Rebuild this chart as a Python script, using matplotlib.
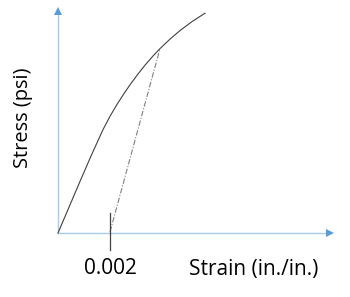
import matplotlib.pyplot as plt

# titik kurva tegangan-regangan (regangan dalam in./in., tegangan skala relatif)
strain = [0.0, 0.000846, 0.001308, 0.001731, 0.002, 0.002269, 0.002538, 0.002808,
          0.003077, 0.003346, 0.003654, 0.003923, 0.004308, 0.004692, 0.005154, 0.005654]
stress = [0, 51.6, 79.2, 103.4, 116.7, 128.6, 139.4, 149.6,
          159, 167.8, 177, 184.4, 193.9, 202.4, 211.4, 219.8]

# garis offset 0.2% (sejajar bagian elastis)
offset_strain = [0.002, 0.003923]
offset_stress = [1, 184.4]
offset_label = "0.002"

x_label = "Strain (in./in.)"
y_label = "Stress (psi)"

px = 0.002 / 52  # regangan per piksel

fig = plt.figure(figsize=(3.5, 2.97), dpi=100)
ax = fig.add_axes([0, 0, 1, 1])
ax.set_xlim(-58 * px, 292 * px)
ax.set_ylim(-64, 233)
ax.axis('off')

axis_col = '#A9CBEA'
head_col = '#5B9BD5'

# sumbu dan kepala panah
ax.plot([0, 0], [0, 220], color=axis_col, lw=1)
ax.plot([0, 269 * px], [0, 0], color=axis_col, lw=1)
ax.plot(0, 222.5, marker='^', ms=5.2, color=head_col, mec=head_col, mew=0)
ax.plot(271.5 * px, 0, marker='>', ms=5.2, color=head_col, mec=head_col, mew=0)

# kurva
ax.plot(strain, stress, color='#404040', lw=0.8)
ax.plot(offset_strain, offset_stress, color='#808080', lw=0.8,
        linestyle=(0, (5, 1.5, 1, 1.5)))

# tanda 0.002
ax.plot([offset_strain[0]] * 2, [-17, 20], color='#404040', lw=0.9)

font = 'Open Sans'
ax.text(offset_strain[0], -36, offset_label, ha='center', va='center',
        fontsize=15, family=font, color='black')
ax.text(196 * px, -36, x_label, ha='center', va='center',
        fontsize=15, family=font, color='black')
ax.text(-35 * px, 115, y_label, ha='center', va='center', rotation=90,
        fontsize=14.4, family=font, color='black')

fig.savefig('out.png', dpi=100)
